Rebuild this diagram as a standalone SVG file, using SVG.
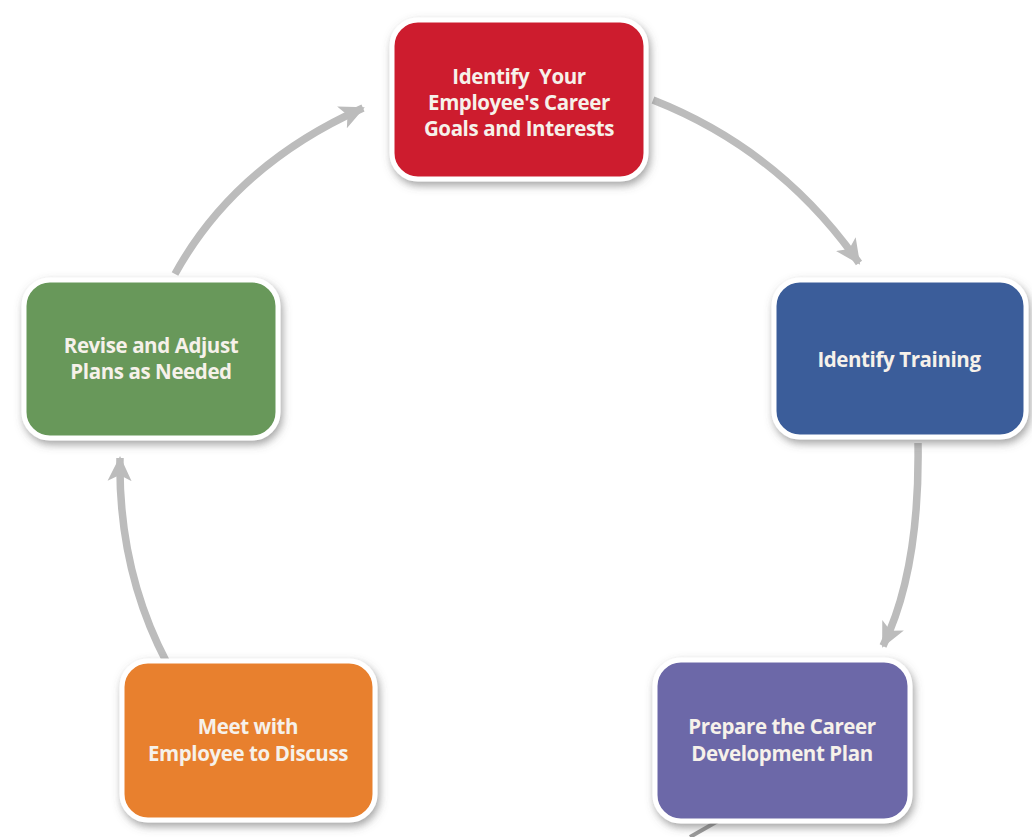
<svg xmlns="http://www.w3.org/2000/svg" width="1032" height="837" viewBox="0 0 1032 837">
<style>
  .box { stroke: #ffffff; stroke-width: 5; filter: url(#sh); }
  .lbl { font-family: "Open Sans", "Liberation Sans", sans-serif; font-weight: bold; font-size: 20.5px; letter-spacing: -0.4px; fill: #f6f1ea; text-anchor: middle; }
  .arr { fill: none; stroke: #bcbcbc; stroke-width: 7.5; stroke-linecap: butt; marker-end: url(#ah); }
  .frag { fill: none; stroke: #9a9a9a; stroke-width: 4; }
</style>
<defs>
  <filter id="sh" x="-10%" y="-10%" width="125%" height="130%">
    <feDropShadow dx="2" dy="4" stdDeviation="4" flood-color="#555555" flood-opacity="0.55"/>
  </filter>
  <marker id="ah" viewBox="0 0 26 26" refX="23" refY="13" markerWidth="26" markerHeight="26" markerUnits="userSpaceOnUse" orient="auto">
    <path d="M0,1 L25,13 L0,25 L6,13 Z" fill="#bcbcbc"/>
  </marker>
</defs>
<rect width="1032" height="837" fill="#ffffff"/>
<g id="connectors">
  <path class="arr" d="M175,274 Q235,165 363,108"/>
  <path class="arr" d="M653,100 Q780,150 859,263"/>
  <path class="arr" d="M918,443 Q920,570 883,646"/>
  <path class="arr" d="M167,663 Q118,570 120,458"/>
  <path class="frag" d="M690,837 L718,821"/>
</g>
<g id="node-goals">
  <rect class="box" x="392" y="20" width="254" height="159" rx="26" fill="#cd1e2e"/>
  <text class="lbl" x="519" y="84" xml:space="preserve">Identify  Your</text>
  <text class="lbl" x="519" y="110">Employee's Career</text>
  <text class="lbl" x="519" y="136">Goals and Interests</text>
</g>
<g id="node-training">
  <rect class="box" x="774" y="280" width="252" height="157" rx="26" fill="#3a5d9a"/>
  <text class="lbl" x="899" y="367">Identify Training</text>
</g>
<g id="node-plan">
  <rect class="box" x="655" y="660" width="255" height="161" rx="26" fill="#6c68a8"/>
  <text class="lbl" x="782" y="734">Prepare the Career</text>
  <text class="lbl" x="782" y="761">Development Plan</text>
</g>
<g id="node-meet">
  <rect class="box" x="122" y="661" width="253" height="159" rx="26" fill="#e8802e"/>
  <text class="lbl" x="248" y="734">Meet with</text>
  <text class="lbl" x="248" y="761">Employee to Discuss</text>
</g>
<g id="node-revise">
  <rect class="box" x="24" y="280" width="254" height="158" rx="26" fill="#67985a"/>
  <text class="lbl" x="151" y="353">Revise and Adjust</text>
  <text class="lbl" x="151" y="379">Plans as Needed</text>
</g>
</svg>
